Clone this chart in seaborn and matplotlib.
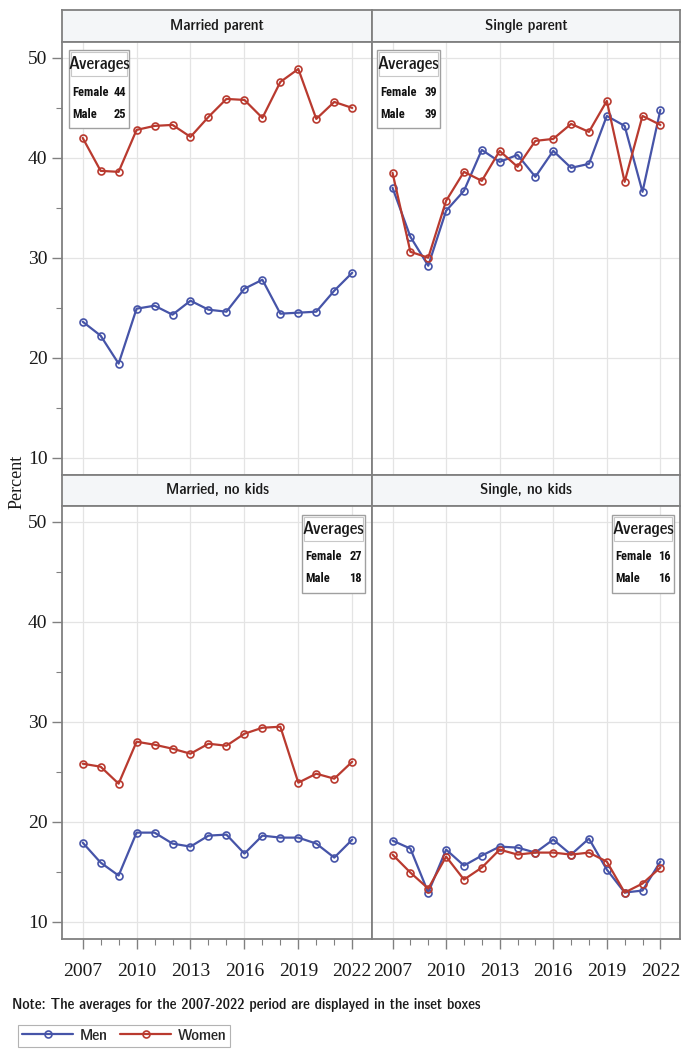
import numpy as np
import pandas as pd
import matplotlib
matplotlib.use('Agg')
import matplotlib.pyplot as plt
from matplotlib import font_manager
from matplotlib.font_manager import FontProperties
from matplotlib.patches import Rectangle
import seaborn as sns

years = list(range(2007, 2023))

# percent values
married_parent_men = [23.6, 22.2, 19.4, 24.9, 25.2, 24.3, 25.7, 24.8, 24.6, 26.9, 27.8, 24.4, 24.5, 24.6, 26.7, 28.5]
married_parent_women = [42.0, 38.7, 38.6, 42.8, 43.2, 43.3, 42.1, 44.1, 45.9, 45.8, 44.0, 47.6, 48.9, 43.9, 45.6, 45.0]
single_parent_men = [37.0, 32.1, 29.2, 34.7, 36.7, 40.8, 39.6, 40.3, 38.1, 40.7, 39.0, 39.4, 44.2, 43.2, 36.6, 44.8]
single_parent_women = [38.5, 30.6, 30.0, 35.7, 38.6, 37.7, 40.7, 39.1, 41.7, 41.9, 43.4, 42.6, 45.7, 37.6, 44.2, 43.3]
married_nokids_men = [17.9, 15.9, 14.6, 18.9, 18.9, 17.8, 17.5, 18.6, 18.7, 16.8, 18.6, 18.4, 18.4, 17.8, 16.4, 18.2]
married_nokids_women = [25.8, 25.5, 23.8, 28.0, 27.7, 27.3, 26.8, 27.8, 27.6, 28.8, 29.4, 29.5, 23.9, 24.8, 24.3, 26.0]
single_nokids_men = [18.1, 17.3, 12.9, 17.2, 15.6, 16.6, 17.5, 17.4, 16.9, 18.2, 16.7, 18.3, 15.2, 12.9, 13.1, 16.0]
single_nokids_women = [16.7, 14.9, 13.3, 16.5, 14.2, 15.4, 17.2, 16.7, 16.9, 16.9, 16.7, 16.9, 16.0, 12.9, 13.8, 15.4]

panel_titles = ['Married parent', 'Single parent', 'Married, no kids', 'Single, no kids']
female_avg = [44, 39, 27, 16]
male_avg = [25, 39, 18, 16]
year_ticks = [2007, 2010, 2013, 2016, 2019, 2022]
pct_ticks = [10, 20, 30, 40, 50]

series = {
    'Married parent': (married_parent_men, married_parent_women),
    'Single parent': (single_parent_men, single_parent_women),
    'Married, no kids': (married_nokids_men, married_nokids_women),
    'Single, no kids': (single_nokids_men, single_nokids_women),
}

rows = []
for title, (men, women) in series.items():
    for y, m, w in zip(years, men, women):
        rows.append((title, y, 'Men', m))
        rows.append((title, y, 'Women', w))
df = pd.DataFrame(rows, columns=['group', 'year', 'sex', 'pct'])

sns.set_theme(style='white')


def find_narrow(bold=False):
    # look for any condensed / narrow sans face on the system
    best = None
    for f in font_manager.fontManager.ttflist:
        fn = f.fname.lower()
        if 'serif' in fn and 'sans' not in fn:
            continue
        if 'mono' in fn or 'italic' in fn or 'oblique' in fn:
            continue
        if not ('narrow' in fn or 'condensed' in fn or f.stretch in ('condensed', 'semi-condensed')):
            continue
        isbold = (f.weight in ('bold', 700, 'heavy', 800)) or 'bold' in fn
        if isbold != bold:
            continue
        if 'semibold' in fn or 'light' in fn or 'thin' in fn or 'black' in fn or 'medium' in fn or 'extra' in fn:
            continue
        best = f.fname
        if 'liberation' in fn or 'arial' in fn:
            break
    return best


reg_path = find_narrow(False)
bold_path = find_narrow(True)
if reg_path:
    fp_reg = lambda s: FontProperties(fname=reg_path, size=s)
    scale = 1.0
else:
    fp_reg = lambda s: FontProperties(family='Liberation Sans', size=s)
    scale = 0.86
if bold_path:
    fp_bold = lambda s: FontProperties(fname=bold_path, size=s)
    bscale = 1.0
else:
    fp_bold = lambda s: FontProperties(family='Liberation Sans', weight='bold', size=s)
    bscale = 0.84
serif = 'Liberation Serif'

W, H = 683, 1059
fig = plt.figure(figsize=(W / 100, H / 100), dpi=100)
fig.patch.set_facecolor('white')


def fbox(x0, y0, x1, y1):
    # pixel box (from top-left) -> figure fraction rect
    return [x0 / W, 1 - y1 / H, (x1 - x0) / W, (y1 - y0) / H]


palette = {'Men': '#4654a8', 'Women': '#b93a2f'}
frame = '#808080'
grid = '#e4e4e4'

cols = [(62, 372), (372, 680)]
rows_px = [((10, 42), (42, 475)), ((475, 506), (506, 939))]
inset_px = [(69, 50, 129), (377, 50, 440), (302, 515, 365), (612, 515, 674)]

axes = []
for i, title in enumerate(panel_titles):
    r, c = divmod(i, 2)
    x0, x1 = cols[c]
    (h0, h1), (p0, p1) = rows_px[r]

    hax = fig.add_axes(fbox(x0, h0, x1, h1))
    hax.set_facecolor('#f4f6f8')
    hax.set_xticks([]); hax.set_yticks([])
    for s in hax.spines.values():
        s.set_color(frame); s.set_linewidth(1.3)
    hax.text(0.5, 0.5, title, ha='center', va='center', fontproperties=fp_reg(11.5 * scale), color='#1a1a1a')

    ax = fig.add_axes(fbox(x0, p0, x1, p1))
    sub = df[df['group'] == title]
    sns.lineplot(data=sub, x='year', y='pct', hue='sex', hue_order=['Men', 'Women'],
                 palette=palette, marker='o', markersize=5, linewidth=1.6, legend=False, ax=ax)
    for ln in ax.lines:
        ln.set_markeredgecolor(ln.get_color())
        ln.set_markerfacecolor('none')
        ln.set_markeredgewidth(1.2)
    ax.set_xlim(2005.85, 2023.1)
    ax.set_ylim(8.25, 51.6)
    ax.set_xticks(year_ticks)
    ax.set_xticks(years, minor=True)
    ax.set_yticks(pct_ticks)
    ax.set_yticks([15, 25, 35, 45], minor=True)
    ax.grid(True, which='major', color=grid, linewidth=0.9)
    ax.set_axisbelow(True)
    ax.set_xlabel(''); ax.set_ylabel('')
    for s in ax.spines.values():
        s.set_color(frame); s.set_linewidth(1.3)
    ax.tick_params(axis='both', which='both', color=frame, labelsize=14, labelcolor='#1a1a1a')
    ax.tick_params(axis='both', which='major', length=7, width=1)
    ax.tick_params(axis='both', which='minor', length=4, width=0.8)
    if c == 0:
        ax.tick_params(axis='y', which='both', left=True)
        for t in ax.get_yticklabels():
            t.set_family(serif)
    else:
        ax.tick_params(axis='y', which='both', left=False, labelleft=False)
    if r == 1:
        ax.tick_params(axis='x', which='both', bottom=True, pad=10)
        for t in ax.get_xticklabels():
            t.set_family(serif)
    else:
        ax.tick_params(axis='x', which='both', bottom=False, labelbottom=False)
    axes.append(ax)

    # inset box with averages
    bx0, by0, bx1 = inset_px[i]
    by1 = by0 + 78
    fig.patches.append(Rectangle((bx0 / W, 1 - by1 / H), (bx1 - bx0) / W, (by1 - by0) / H,
                                 transform=fig.transFigure, facecolor='white', edgecolor='#a0a0a0', lw=1))
    fig.patches.append(Rectangle(((bx0 + 2) / W, 1 - (by0 + 26) / H), (bx1 - bx0 - 4) / W, 24 / H,
                                 transform=fig.transFigure, facecolor='white', edgecolor='#c8c8c8', lw=0.8))
    fig.text((bx0 + bx1) / 2 / W, 1 - (by0 + 14) / H, 'Averages', ha='center', va='center',
             fontproperties=fp_reg(12.5 * scale), color='#1a1a1a')
    for lab, val, dy in (('Female', female_avg[i], 42), ('Male', male_avg[i], 64)):
        fig.text((bx0 + 3) / W, 1 - (by0 + dy) / H, lab, ha='left', va='center',
                 fontproperties=fp_bold(9 * bscale), color='#111111')
        fig.text((bx1 - 3) / W, 1 - (by0 + dy) / H, str(val), ha='right', va='center',
                 fontproperties=fp_bold(9 * bscale), color='#111111')

fig.text(17 / W, 1 - 482 / H, 'Percent', rotation=90, ha='center', va='center',
         family=serif, fontsize=13, color='#1a1a1a')
fig.text(12 / W, 1 - 1005 / H, 'Note: The averages for the 2007-2022 period are displayed in the inset boxes',
         ha='left', va='center', fontproperties=fp_reg(11 * scale), color='#1a1a1a')

handles = axes[0].lines[:2]
leg = fig.legend(handles, ['Men', 'Women'], loc='lower left', bbox_to_anchor=(10 / W, 4 / H),
                 ncol=2, frameon=True, fancybox=False, handlelength=3.2, columnspacing=0.8,
                 handletextpad=0.4, borderpad=0.25, prop=fp_reg(11.5 * scale))
leg.get_frame().set_edgecolor('#a0a0a0')
leg.get_frame().set_linewidth(0.8)

fig.savefig('out.png', dpi=100)
